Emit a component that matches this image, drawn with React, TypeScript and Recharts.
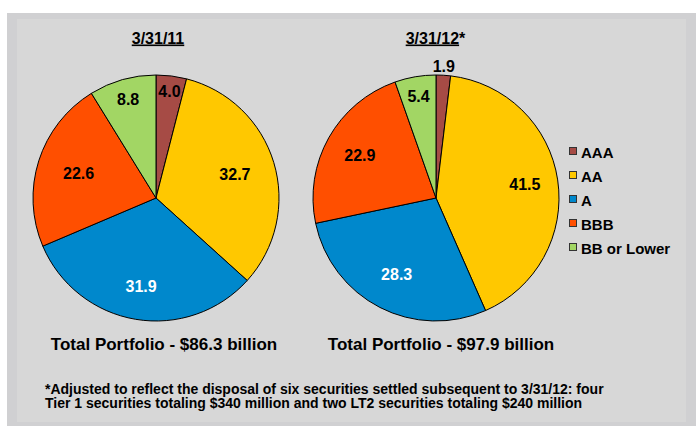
import React from 'react';
import { PieChart, Pie, Cell, Legend } from 'recharts';

const categories = ['AAA', 'AA', 'A', 'BBB', 'BB or Lower'];
const values2011 = [4.0, 32.7, 31.9, 22.6, 8.8];
const values2012 = [1.9, 41.5, 28.3, 22.9, 5.4];
const titles = ['3/31/11', '3/31/12'];
const totals = ['Total Portfolio - $86.3 billion', 'Total Portfolio - $97.9 billion'];
const footnote = [
  '*Adjusted to reflect the disposal of six securities settled subsequent to 3/31/12: four',
  'Tier 1 securities totaling $340 million and two LT2 securities totaling $240 million',
];

const colors = ['#a64b45', '#ffc800', '#0088cc', '#ff4f00', '#a2d664'];
const labelColors = ['#000', '#000', '#fff', '#000', '#000'];
const labelRadius2011 = [0.87, 0.67, 0.73, 0.66, 0.83];
const labelRadius2012 = [1.07, 0.73, 0.7, 0.71, 0.84];

const FONT = '"Liberation Sans", Arial, sans-serif';
const RAD = Math.PI / 180;

const data2011 = categories.map((name, i) => ({ name, value: values2011[i] }));
const data2012 = categories.map((name, i) => ({ name, value: values2012[i] }));

const makeLabel = (radii: number[]) => (props: any) => {
  const { cx, cy, midAngle, outerRadius, index, value } = props;
  const r = outerRadius * radii[index];
  const x = cx + r * Math.cos(-midAngle * RAD);
  const y = cy + r * Math.sin(-midAngle * RAD);
  return (
    <text
      x={x}
      y={y}
      textAnchor="middle"
      dominantBaseline="central"
      fill={labelColors[index]}
      fontFamily={FONT}
      fontWeight="bold"
      fontSize={16}
    >
      {Number(value).toFixed(1)}
    </text>
  );
};

const LegendContent = () => (
  <div style={{ fontFamily: FONT, fontWeight: 'bold', fontSize: 15, color: '#000' }}>
    {categories.map((c, i) => (
      <div key={c} style={{ display: 'flex', alignItems: 'center', height: 24, lineHeight: '24px' }}>
        <span
          style={{
            display: 'inline-block',
            width: 6,
            height: 6,
            background: colors[i],
            border: '1px solid #333',
            marginRight: 4,
            marginTop: -4,
          }}
        />
        <span>{c}</span>
      </div>
    ))}
  </div>
);

export default function App() {
  return (
    <div style={{ position: 'absolute', left: 0, top: 0, width: 696, height: 426, background: '#fff' }}>
      <div style={{ position: 'absolute', left: 7, top: 13, width: 689, height: 413, background: '#d0d0d2' }} />
      <div style={{ position: 'absolute', left: 17, top: 19, width: 669, height: 403, background: '#d7d7d7' }} />
      <div style={{ position: 'absolute', left: 0, top: 0 }}>
        <PieChart width={696} height={426} margin={{ top: 0, right: 0, bottom: 0, left: 0 }}>
          <Pie
            data={data2011}
            dataKey="value"
            nameKey="name"
            cx={156}
            cy={198}
            outerRadius={123}
            startAngle={90}
            endAngle={-270}
            stroke="#000"
            strokeWidth={1}
            label={makeLabel(labelRadius2011)}
            labelLine={false}
            isAnimationActive={false}
          >
            {data2011.map((d, i) => (
              <Cell key={d.name} fill={colors[i]} />
            ))}
          </Pie>
          <Pie
            data={data2012}
            dataKey="value"
            nameKey="name"
            cx={436}
            cy={198}
            outerRadius={123}
            startAngle={90}
            endAngle={-270}
            stroke="#000"
            strokeWidth={1}
            label={makeLabel(labelRadius2012)}
            labelLine={false}
            isAnimationActive={false}
          >
            {data2012.map((d, i) => (
              <Cell key={d.name} fill={colors[i]} />
            ))}
          </Pie>
          <Legend
            layout="vertical"
            align="right"
            verticalAlign="top"
            content={() => <LegendContent />}
            wrapperStyle={{ position: 'absolute', left: 569, top: 141, width: 120 }}
          />
        </PieChart>
      </div>
      <svg
        width={696}
        height={426}
        style={{ position: 'absolute', left: 0, top: 0, pointerEvents: 'none' }}
        fontFamily={FONT}
        fontWeight="bold"
      >
        <text x={158} y={43.5} textAnchor="middle" fontSize={16} fill="#000" textDecoration="underline">
          {titles[0]}
        </text>
        <text x={435.5} y={43.5} textAnchor="middle" fontSize={16} fill="#000">
          <tspan textDecoration="underline">{titles[1]}</tspan>
          <tspan>*</tspan>
        </text>
        <text x={164} y={349.5} textAnchor="middle" fontSize={17} fill="#000">
          {totals[0]}
        </text>
        <text x={441} y={349.5} textAnchor="middle" fontSize={17} fill="#000">
          {totals[1]}
        </text>
        <text x={45} y={393.5} fontSize={14} fill="#000">
          <tspan x={45} y={393.5}>{footnote[0]}</tspan>
          <tspan x={45} y={407.5}>{footnote[1]}</tspan>
        </text>
      </svg>
    </div>
  );
}
